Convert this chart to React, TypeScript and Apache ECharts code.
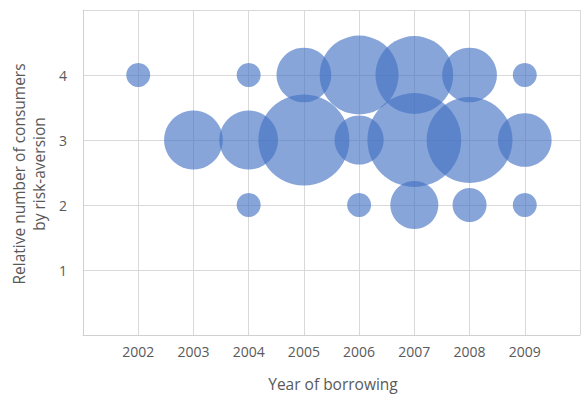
import React, { useEffect, useRef } from "react";
import * as echarts from "echarts";

// Bubble data (parallel arrays)
const years = [2002, 2004, 2005, 2006, 2007, 2008, 2009, 2003, 2004, 2005, 2006, 2007, 2008, 2009, 2004, 2006, 2007, 2008, 2009];
const levels = [4, 4, 4, 4, 4, 4, 4, 3, 3, 3, 3, 3, 3, 3, 2, 2, 2, 2, 2];
const sizes = [1, 1, 5.2, 10.8, 10.5, 5.2, 1, 6, 6, 14.4, 4.2, 15.3, 12.8, 5, 1, 1, 4, 2, 1];

const yTicks = [1, 2, 3, 4];
const xTicks = [2002, 2003, 2004, 2005, 2006, 2007, 2008, 2009];

const FONT = "'Open Sans', 'Liberation Sans', sans-serif";
const TXT = "#595959";

export default function App() {
  const ref = useRef<HTMLDivElement>(null);
  useEffect(() => {
    if (!ref.current) return;
    const chart = echarts.init(ref.current, null, { renderer: "svg" });
    const data = years.map((y, i) => [y, levels[i], sizes[i]]);
    chart.setOption({
      animation: false,
      backgroundColor: "#ffffff",
      grid: { left: 83, top: 10, width: 503, height: 325, containLabel: false },
      xAxis: {
        type: "value",
        min: 2001,
        max: 2010,
        interval: 1,
        axisLine: { show: true, lineStyle: { color: "#d0d0d0", width: 1 } },
        axisTick: { show: false },
        splitLine: { show: true, lineStyle: { color: "#d9d9d9", width: 1 } },
        axisLabel: {
          color: TXT,
          fontFamily: FONT,
          fontSize: 14,
          margin: 9,
          formatter: (v: number) => (xTicks.includes(v) ? String(v) : ""),
        },
      },
      yAxis: {
        type: "value",
        min: 0,
        max: 5,
        interval: 1,
        axisLine: { show: true, lineStyle: { color: "#d0d0d0", width: 1 } },
        axisTick: { show: false },
        splitLine: { show: true, lineStyle: { color: "#d9d9d9", width: 1 } },
        axisLabel: {
          color: TXT,
          fontFamily: FONT,
          fontSize: 14,
          margin: 16,
          formatter: (v: number) => (yTicks.includes(v) ? String(v) : ""),
        },
      },
      graphic: [
        {
          type: "text",
          x: 333,
          y: 384,
          style: {
            text: "Year of borrowing",
            fill: TXT,
            font: `15.5px ${FONT}`,
            align: "center",
            verticalAlign: "middle",
          },
        },
        {
          type: "text",
          x: 29,
          y: 174,
          rotation: Math.PI / 2,
          style: {
            text: "Relative number of consumers\nby risk-aversion",
            fill: TXT,
            font: `15.5px ${FONT}`,
            align: "center",
            verticalAlign: "middle",
            lineHeight: 20,
          },
        },
      ],
      series: [
        {
          type: "scatter",
          data,
          symbol: "circle",
          symbolSize: (d: number[]) => 24 * Math.sqrt(d[2]),
          itemStyle: { color: "rgba(68,114,196,0.8)" },
          emphasis: { disabled: true },
        },
      ],
    });
    return () => chart.dispose();
  }, []);
  return <div ref={ref} style={{ width: 583, height: 396, position: "absolute", left: 0, top: 0 }} />;
}
